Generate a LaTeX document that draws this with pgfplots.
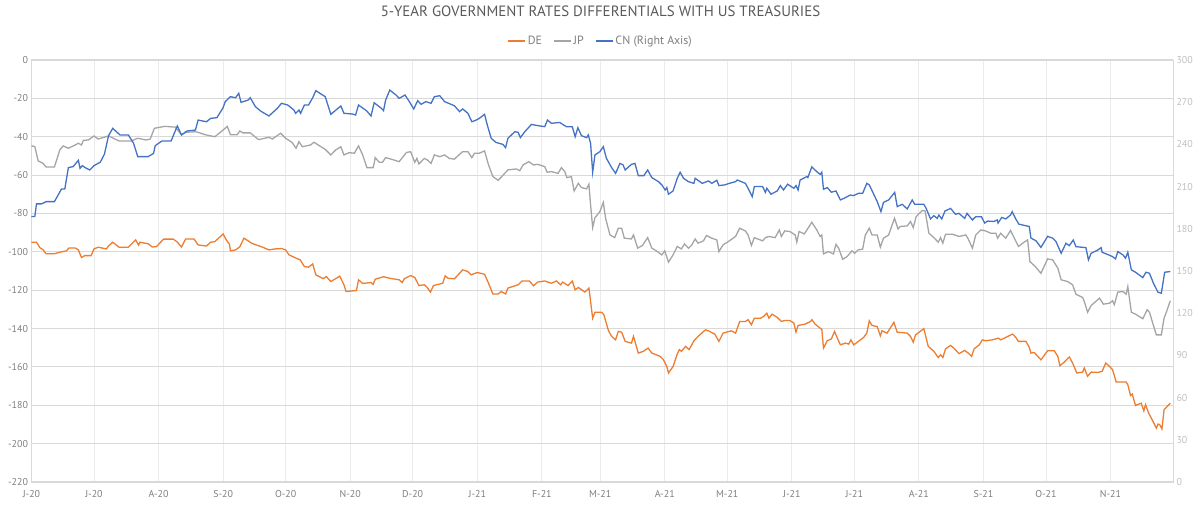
\documentclass[border=0pt]{standalone}
\usepackage{pgfplots}
\pgfplotsset{compat=1.18}
\usepackage{fontspec}
\setmainfont{PT Sans}
\definecolor{cDE}{HTML}{ED7D31}
\definecolor{cJP}{HTML}{A5A5A5}
\definecolor{cCN}{HTML}{4472C4}
\definecolor{ctick}{HTML}{7F7F7F}
\definecolor{ctickR}{HTML}{BFBFBF}
\definecolor{ctitle}{HTML}{595959}
\definecolor{gridH}{HTML}{D9D9D9}
\definecolor{gridV}{HTML}{EBEBEB}
\begin{document}
\begin{tikzpicture}
\pgfplotsset{
  common/.style={
    width=1141.5bp, height=422bp, scale only axis,
    xmin=0, xmax=548,
    major tick length=0pt,
    xtick={0,30,61,92,122,153,183,214,245,273,304,334,365,395,426,457,487,518},
  },
}
\begin{axis}[common,
  ymin=-220, ymax=0,
  ytick={-220,-200,...,0},
  yticklabels={-220,-200,-180,-160,-140,-120,-100,-80,-60,-40,-20,0},
  xticklabels={J-20,J-20,A-20,S-20,O-20,N-20,D-20,J-21,F-21,M-21,A-21,M-21,J-21,J-21,A-21,S-21,O-21,N-21},
  xticklabel style={font=\fontsize{10}{12}\selectfont, text=ctick, yshift=-5bp},
  yticklabel style={font=\fontsize{10}{12}\selectfont, text=ctick},
  axis line style={draw=gridH, line width=0.8bp},
  xmajorgrids, ymajorgrids,
  x grid style={draw=gridV, line width=0.8bp},
  y grid style={draw=gridH, line width=1bp},
  title={5-YEAR GOVERNMENT RATES DIFFERENTIALS WITH US TREASURIES},
  title style={at={(0.4985,1.102)}, anchor=center, font=\fontsize{15}{17}\selectfont, text=ctitle},
  legend columns=3,
  legend style={at={(0.4985,1.045)}, anchor=center, draw=none, fill=none,
    font=\fontsize{12}{14}\selectfont, text=ctick,
    /tikz/every even column/.append style={column sep=9bp}},
  legend image code/.code={\draw[#1, line width=1.6bp] (0bp,0bp) -- (17bp,0bp);},
]
\coordinate (bl) at (rel axis cs:0,0);
\coordinate (tr) at (rel axis cs:1,1);
\addplot[cDE, line width=1.3bp] coordinates {
(0,-95) (2.4,-95) (4,-97.8) (5.6,-99) (7,-101) (11,-101) (14.4,-100) (16.8,-99.5) (18,-98) (21,-98) (22.5,-99) (24,-103) (25.5,-102) (28.6,-102)
(30,-98.5) (32,-97.6) (36,-98.5) (36.9,-97) (39,-95) (42,-97.6) (46.5,-97.6) (50,-93.8) (51.4,-96.5) (52,-95) (56,-95.8) (58,-97.5) (60,-97.3)
(63.4,-93.4) (68,-93.4) (69.8,-94.7) (72,-97.5) (74,-93.3) (78,-93.3) (80,-96.4) (84,-97) (86,-95) (88,-94.7) (92,-90.7) (93.5,-93.8) (95,-96)
(95.5,-99.5) (98,-99) (100,-97.4) (102,-92.9) (106,-95.7) (111,-97.6) (114,-99) (117,-98.5) (120,-98.3) (122,-99) (123.6,-101.6) (127,-103.3)
(129,-104.2) (131,-107.7) (133,-108) (135,-106.3) (136.5,-112) (140,-114) (141.5,-112.9) (143.7,-115.5) (148,-112.7) (150,-117.2) (151,-120.7)
(156,-120.2) (157,-114.6) (159,-116.5) (163,-116) (164,-117) (165,-114.3) (169,-113) (172,-113.8) (176.5,-114.6) (178,-116) (179,-114) (182,-112.4)
(184,-113.4) (186,-117.6) (188.6,-117.2) (190,-118.6) (191.5,-121) (193,-117.6) (197.4,-116.4) (198.6,-112.5) (200,-113.8) (203,-114.1)
(205.5,-111.2) (207,-109.4) (209.5,-110.3) (211,-112) (214,-110.8) (217.5,-111.7) (219.4,-116.4) (221.5,-122) (224,-122) (225.5,-120.7)
(227.6,-122) (228.7,-118.9) (233.6,-117.2) (235.5,-115.2) (239,-115.2) (241,-117.7) (243,-115.8) (246.4,-115.2) (249.6,-116.4) (252,-115.2)
(254,-117.2) (255,-115.8) (257.6,-117.6) (259.6,-115.2) (261,-119.8) (262.5,-118.6) (265.7,-121) (267.6,-118.9) (268.4,-125.9) (269.4,-134.6)
(270.5,-131.5) (273.7,-131.5) (274.8,-132.9) (277,-141.2) (278.5,-144.1) (280.4,-145.9) (281.7,-141.5) (283.3,-141.9) (285,-146.7) (288,-147.6)
(289,-144.1) (291.3,-152.8) (293.7,-151.9) (296,-150.2) (297.8,-152.8) (301.8,-154.5) (303.4,-156.3) (305,-159.8) (305.8,-163.2) (308,-159.8)
(310,-153.3) (311,-151) (312,-151.9) (314,-149.3) (315.7,-151) (318,-146.4) (320,-144.1) (323.5,-140.7) (325,-141.2) (328,-142.9) (330,-146.7)
(332,-142.4) (336,-141.2) (338,-142.4) (340,-136.3) (342.7,-136.3) (344,-135.4) (345.6,-138) (347,-134.6) (350,-134.6) (351.5,-133.7) (353,-132)
(354,-134.6) (355.5,-132.5) (358,-134.2) (360,-136.3) (361.6,-135.8) (364,-135.8) (366,-137.2) (367,-141.9) (368,-138.4) (371.4,-137.7) (374,-136.3)
(374.6,-135.4) (376.2,-137.7) (378.6,-139.8) (379.4,-140.4) (380.2,-150.2) (382,-146.4) (384,-145.4) (385.5,-141.5) (386.7,-144.6) (388.3,-148.5)
(390.7,-147.6) (392.3,-148.1) (393.4,-145.9) (394.7,-148.5) (397,-146.7) (399.5,-144.6) (401,-142.4) (402.2,-136) (403.5,-138.4) (406,-139)
(407.5,-143.8) (408.3,-141.2) (410.7,-142.4) (414,-136.8) (415.6,-141.9) (420.4,-142.4) (422,-144.1) (423.3,-147.1) (424.4,-143.3) (428.4,-140.1)
(430.5,-149.3) (433.2,-151.9) (435.3,-155.1) (436.4,-153.7) (437.5,-155.1) (438.8,-150.6) (441.2,-148.8) (442.8,-150.2) (445.3,-153.1) (448,-151.4)
(449.7,-152.8) (451.3,-154.5) (452.5,-150.6) (455,-148.5) (456.5,-145.9) (458,-146.4) (461.3,-145.9) (464.2,-145) (465.3,-145.9) (467,-145)
(471,-142.9) (472.5,-144.6) (473.8,-146.7) (477.4,-146.7) (479,-149.8) (479.8,-152.8) (481.4,-152.5) (484.6,-156.3) (487.8,-151.6) (491,-151.6)
(492.7,-154.5) (493.7,-159.4) (495.8,-157.5) (498.2,-154.8) (499.8,-158) (501.8,-163.2) (504.6,-162.7) (505.4,-160.6) (507,-164.9) (508.7,-162.7)
(511.9,-162.9) (514,-162.3) (515.7,-158) (517.6,-159.8) (519,-161.5) (520.7,-167.9) (525.5,-167.9) (526.3,-169.3) (527.6,-174.9) (528.4,-174.2)
(530,-180.1) (532.7,-178.9) (534,-182.9) (534.8,-179.7) (536.3,-184.1) (538.4,-188.4) (540,-191.9) (540.8,-189.8) (541.6,-190.1) (542.7,-192.3)
(543.7,-182.3) (544.8,-181.1) (546.7,-178.9)
};
\addlegendentry{DE}
\addplot[cJP, line width=1.3bp] coordinates {
(0,-44.7) (1.6,-45.2) (3.2,-52.6) (5.6,-53.9) (7,-55.8) (11,-55.8) (13.6,-46.9) (15.2,-44.8) (17.7,-46) (21,-44.3) (22.5,-43.4) (24,-44.3) (24.9,-41.9)
(27.3,-41.7) (30,-39.6) (32,-41.2) (37,-39.6) (42,-42.2) (48,-42.2) (51,-40.8) (55,-41.7) (57,-41.2) (59,-35.6) (64,-34.6) (69,-35) (72,-39) (74,-37.7)
(79,-37.4) (83.5,-39) (88,-40) (90.7,-37.7) (94,-34.6) (95.5,-39) (98.7,-39) (100,-37) (101.5,-38) (105,-38) (109,-41.5) (114,-40.3) (115.6,-41.2)
(119.6,-38.2) (122,-40.8) (125,-42.9) (127,-46) (128.4,-42.6) (130,-45.2) (134,-44.3) (135.6,-42.9) (141,-46.6) (143.7,-49.5) (146,-46.9) (148.5,-45.2)
(150,-49.5) (152.5,-48.3) (155,-48.6) (157,-44.8) (159,-49.5) (161,-56.1) (164,-56.1) (164.5,-53.9) (165,-50.9) (166.9,-53.3) (168.5,-53.3) (170,-50.9)
(173,-51.8) (176.5,-53) (180,-48.2) (182,-47.8) (184,-53.3) (185,-51.3) (186,-54.2) (188.6,-51.3) (190,-52.1) (191.8,-53.9) (193.4,-49.5) (196,-50.4)
(198.3,-49.5) (200.6,-51.3) (203,-51.7) (205.5,-49.2) (207,-47.8) (209.5,-47.8) (211.4,-50.9) (212.7,-48.6) (215,-48.6) (217.5,-47.4) (219.4,-54.7)
(221.5,-60.8) (224,-62.7) (225.3,-61.3) (228.7,-57.3) (232.8,-56.8) (234.4,-57.7) (236,-54.7) (238.7,-53) (241,-54.7) (243,-54.4) (246.4,-55.6)
(247.5,-58.5) (249.6,-58.2) (252.8,-59.1) (254.4,-56.1) (256,-58.2) (257,-61.3) (259.2,-60.8) (260.5,-68.3) (262.5,-64.3) (264,-66.5) (266.5,-67.2)
(267.6,-64.8) (268.4,-75.6) (269.4,-87.4) (270.5,-82.2) (272.9,-79) (274.5,-74.2) (275.6,-82.5) (277.7,-91.2) (280,-92.6) (281.7,-87.7) (283.3,-87.7)
(284.6,-92.9) (288,-93.3) (289,-91.2) (291,-98.1) (293.3,-96.7) (295.8,-92.6) (297.8,-98.1) (300,-99.5) (302.6,-101.6) (304,-99.5) (305.8,-105.4)
(308,-101.6) (310,-97.2) (312,-98.5) (313.5,-95.9) (315.4,-98.1) (317,-96.4) (318.6,-93.3) (320,-95.5) (322.6,-94.3) (324,-91.5) (326.6,-92.9)
(329,-93.8) (330,-99.9) (332,-96.4) (335,-94.3) (338,-92) (340,-87.7) (342.7,-89.1) (344,-91.2) (345.6,-96.7) (347,-92.6) (351,-94.3) (352.3,-92.6)
(354,-92) (357,-92.6) (359,-88.6) (360,-92) (361.6,-89.1) (364,-89.4) (366.6,-91.2) (367.4,-95) (368.5,-89.4) (371,-90.7) (374.6,-84.6) (377,-88.6)
(378.6,-92) (379.4,-91.2) (380.2,-101.1) (382.6,-99.9) (385,-101.1) (386.2,-96.1) (387.5,-98.1) (389.4,-103.9) (391.5,-102.5) (393.9,-99.5)
(395.2,-100.8) (396.8,-99) (399,-98.6) (400.3,-91.2) (402.2,-87.7) (403.5,-91.2) (406,-91.2) (407.5,-97.6) (409,-92.9) (411.5,-91.2) (414.3,-82.5)
(416,-88.1) (417,-86.8) (420.4,-86.5) (422,-84.2) (423.3,-87.4) (424.7,-81.6) (427.6,-78.5) (429,-78.7) (430.8,-90.3) (433.2,-92.6) (435.3,-95)
(436.4,-92.6) (437.5,-95.5) (438.8,-90.8) (442,-90.8) (445.3,-92) (448.5,-91.2) (449.7,-93.3) (451.7,-98.1) (453.3,-91.2) (455.7,-88.6) (458,-89.1)
(460.5,-90.3) (463,-90.3) (463.8,-92.9) (465.3,-90.3) (467.7,-92.9) (470,-88.9) (471.7,-92.6) (473.8,-97.2) (476.5,-95) (478.2,-93.8) (479.3,-105.1)
(481.9,-107.7) (484.6,-111.2) (487.8,-103.7) (490.2,-104.2) (492.7,-108.5) (494.3,-114.6) (497.4,-115.5) (499.8,-117.2) (501.4,-122.1) (504.6,-123.8)
(505.4,-125.9) (507,-131.5) (508.7,-128) (512.7,-124.2) (514.6,-127.3) (517.5,-126.8) (519,-125.5) (519.8,-127.6) (521.5,-121) (524,-120.7)
(525.5,-122.1) (526.3,-118.1) (528,-131.5) (530,-132.5) (533.5,-134.9) (535.6,-130.2) (536.7,-131.5) (538.4,-137.7) (540,-143.3) (542.4,-143.3)
(543.7,-134.6) (544.8,-131.5) (546.7,-125.5)
};
\addlegendentry{JP}
\addlegendimage{cCN, line width=1.3bp}
\addlegendentry{CN (Right Axis)}
\end{axis}
\begin{axis}[common,
  ymin=0, ymax=300,
  ytick={0,30,...,300},
  axis y line*=right, axis x line=none,
  yticklabel style={font=\fontsize{10}{12}\selectfont, text=ctickR},
  /pgf/number format/assume math mode=true,
  axis line style={draw=none},
]
\addplot[cCN, line width=1.3bp] coordinates {
(0,188.7) (1.6,188.7) (2.4,197.7) (4.8,197.7) (7,199.3) (11,199.3) (14.4,208.3) (16,208.3) (17.7,223.5) (20,224.2) (22.5,228.7) (23.3,223) (24.4,224.9)
(25.7,223.5) (28,221.8) (30,224.9) (33,227.3) (35,233) (37,246.2) (39,251.4) (42.5,246.7) (46.5,246.7) (49,240.8) (51,231.3) (56,231.3) (58.6,233.6)
(59.4,239.1) (62.6,242.4) (67,242.4) (70,253.1) (72,246.7) (74.6,249.5) (78.7,250.2) (80,257.3) (84,256.1) (86,258.5) (89,259) (92,266.1) (93,270.4)
(95.5,273.9) (98,273.2) (99.5,276.3) (100.6,269.9) (104,271.5) (105,273.2) (107.5,266.8) (110,263.7) (114,260.2) (118,265.6) (120,269.2) (123,268)
(126,264.4) (126.8,262.1) (128.4,264.4) (129.2,262.1) (131,268) (133,268) (135,273.2) (136.5,278.2) (141,273.9) (143.7,261.4) (148.5,267.3)
(150,262.1) (154,261.6) (155.6,260.9) (157,268) (161,263.7) (163,260.2) (164.5,269.6) (168,265.6) (169,264) (170,271.5) (172,278.6) (175,275.1)
(176.5,272.7) (178,274) (179.3,275.1) (181.4,270.4) (183.5,265.2) (185.4,271.1) (187,268.5) (189.4,270.4) (191.8,269.2) (193.4,273.9) (196,274.6)
(198.3,270.4) (203,267.5) (205.5,263.3) (207,265.2) (209.5,262.1) (211.4,256.1) (213.5,257.3) (215,258.5) (217.5,261.4) (218.8,253.8) (220.7,244.3)
(223,241.4) (226.3,240) (227.6,237.7) (228.7,244.3) (232,249) (233.6,248.6) (234.7,244.8) (236.8,249) (240,254.2) (243.2,253.3) (246.4,252.6)
(247.7,257.3) (249.6,255) (253.6,255.6) (255,254.2) (256.8,252.6) (259.6,252.6) (261,245.5) (262.3,251.9) (264,246.2) (266.5,244.8) (267.3,246.7)
(268.4,240.8) (269.4,220.2) (270.5,232.5) (272.9,234.9) (274.5,238.4) (276,230.1) (278.5,223.5) (280.4,219.4) (282.5,226.5) (284,225.4) (285,221.8)
(288,225.8) (289.7,226.5) (291.3,217.8) (294,217.8) (295.8,221.8) (297.8,216.4) (301,213.5) (302.6,211.2) (304.2,207.6) (305,209.3) (305.8,204.6)
(308,206.9) (310,215.9) (311.4,220.2) (313,215.9) (315.4,213.5) (318,212.3) (318.6,215.9) (322,212.3) (325,214) (326.6,212.3) (329,214.5) (330,210.7)
(332.8,211.2) (335,212.3) (338,213.5) (338.8,214.7) (342.7,212.3) (344,208.8) (346,202.9) (347,210) (351,210) (352.3,205.9) (353,208.8) (355,204.6)
(358,206.9) (359.5,210.7) (361,207.6) (363,211.7) (364,210.7) (366,208.8) (367,210.7) (368,207.6) (369,214.7) (372.2,217.1) (372.7,216.4) (374.6,224)
(377,220.6) (378.6,218.7) (379.4,220.2) (380.2,208.1) (382,209.3) (384,206) (386.2,206.9) (388.3,200.5) (390.7,202.1) (393,204) (394.7,203.6)
(397,205.2) (399,205.2) (401,212.3) (402.2,211.2) (406,199.3) (407.8,192.2) (409,198.8) (411.5,200.5) (414.4,205.9) (415.6,195.8) (418,197.4)
(420.4,194.1) (422.8,200.5) (424,197.4) (428.4,197.4) (429.5,194.5) (431.6,187) (433.2,189.3) (434.8,187.4) (435.6,189.8) (437,187) (438.5,192.6)
(441.2,194.5) (443.6,190.3) (445.2,191) (448,187.4) (449.1,191) (451.7,186.3) (453.3,188.6) (456,188.6) (457.6,184.1) (459,185.5) (462,185.2)
(463.6,186.3) (464,184.1) (465.8,188.1) (467.7,187) (470,189.8) (470.8,192.2) (472.5,187) (474,183.3) (479,181.6) (479.8,173.4) (482.2,171.5)
(484.6,166.8) (487.8,174.6) (490.2,173.4) (491.8,171) (494.3,162.6) (496.6,169.7) (498.2,168) (500.1,172) (501.4,167.3) (506.2,166.6) (507.4,157.9)
(508.7,162.6) (511.9,164.9) (513.5,166.6) (514,163.3) (517.2,161.4) (519,160.2) (520.4,158.6) (521.5,163.8) (524,161.4) (525.2,159.1) (526.3,163.3)
(528,150.8) (530,149.1) (533.5,145.3) (535,149.1) (536.7,148.4) (538.6,141.3) (540.8,134.9) (542.4,134.2) (544,149.1) (546.7,149.6)
};
\end{axis}
\pgfresetboundingbox
\useasboundingbox ([xshift=-31.5bp,yshift=-23bp]bl) rectangle ([xshift=27bp,yshift=60bp]tr);
\end{tikzpicture}
\end{document}
